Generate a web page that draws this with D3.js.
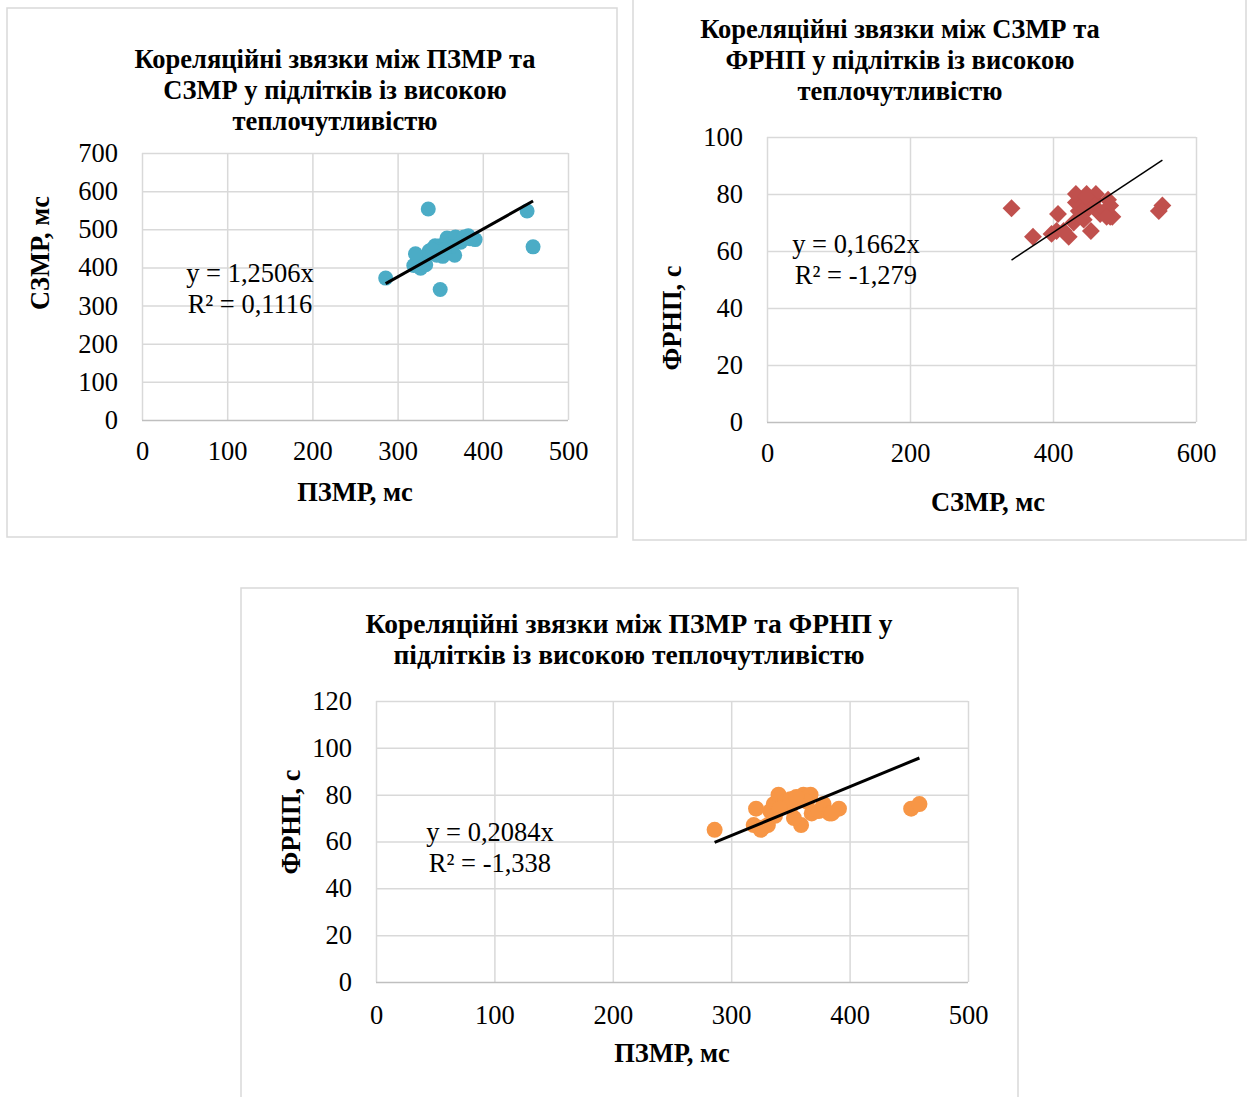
<!DOCTYPE html>
<html>
<head>
<meta charset="utf-8">
<script src="https://cdn.jsdelivr.net/npm/d3@7"></script>
<style>
body { margin: 0; background: #fff; }
text { font-family: "Liberation Serif", "Times New Roman", serif; fill: #000; }
</style>
</head>
<body>
<div id="chart"></div>
<script>
// one value per subject, same order in all three arrays
var pzmr = [286, 336, 350, 452, 459, 319, 325, 331, 359, 321, 327, 333, 340, 344, 346, 350,
            353, 358, 361, 367, 368, 374, 378, 383, 391, 385, 348, 337, 364, 341, 355];
var szmr = [372, 553, 342, 548, 454, 405, 422, 415, 453, 436, 398, 407, 447, 457, 432, 457,
            429, 477, 460, 432, 480, 466, 480, 483, 473, 475, 445, 443, 455, 446, 446];
var frnp = [65, 76, 75, 74, 76, 67, 65, 67, 67, 74, 66, 73, 80, 76, 77, 78,
            70, 78, 80, 80, 72, 73, 76, 72, 74, 72, 75, 71, 77, 74, 79];

var ticksPzmr = [0, 100, 200, 300, 400, 500];
var ticksSzmrY = [0, 100, 200, 300, 400, 500, 600, 700];
var ticksSzmrX = [0, 200, 400, 600];
var ticksFrnp2 = [0, 20, 40, 60, 80, 100];
var ticksFrnp3 = [0, 20, 40, 60, 80, 100, 120];

var slopes = [1.2506, 0.1662, 0.2084];
var equations = [["y = 1,2506x", "R² = 0,1116"],
                 ["y = 0,1662x", "R² = -1,279"],
                 ["y = 0,2084x", "R² = -1,338"]];
var titles = [["Кореляційні звязки між ПЗМР та", "СЗМР у підлітків із високою", "теплочутливістю"],
              ["Кореляційні звязки між СЗМР та", "ФРНП у підлітків із високою", "теплочутливістю"],
              ["Кореляційні звязки між ПЗМР та ФРНП у", "підлітків із високою теплочутливістю"]];
var xTitles = ["ПЗМР, мс", "СЗМР, мс", "ПЗМР, мс"];
var yTitles = ["СЗМР, мс", "ФРНП, с", "ФРНП, с"];

var FONT = "'Liberation Serif', 'Times New Roman', serif";

var svg = d3.select("#chart").append("svg")
    .attr("width", 1248)
    .attr("height", 1097);

function drawChart(o) {
    var g = svg.append("g");

    g.append("rect")
        .attr("x", o.box[0]).attr("y", o.box[1])
        .attr("width", o.box[2] - o.box[0]).attr("height", o.box[3] - o.box[1])
        .attr("fill", "#fff").attr("stroke", "#d9d9d9").attr("stroke-width", 1.5);

    var x = d3.scaleLinear().domain([0, d3.max(o.xTicks)]).range([o.plot[0], o.plot[2]]);
    var y = d3.scaleLinear().domain([0, d3.max(o.yTicks)]).range([o.plot[3], o.plot[1]]);
    var w = o.plot[2] - o.plot[0], h = o.plot[3] - o.plot[1];

    var gx = g.append("g")
        .attr("transform", "translate(0," + o.plot[3] + ")")
        .call(d3.axisBottom(x).tickValues(o.xTicks).tickSize(-h).tickPadding(o.xPad));
    var gy = g.append("g")
        .attr("transform", "translate(" + o.plot[0] + ",0)")
        .call(d3.axisLeft(y).tickValues(o.yTicks).tickSize(-w).tickPadding(24));

    [gx, gy].forEach(function (a) {
        a.attr("font-family", FONT).attr("font-size", 26.5);
        a.select(".domain").remove();
        a.selectAll("line").attr("stroke", "#d9d9d9").attr("stroke-width", 1.5);
        a.selectAll("text").attr("fill", "#000");
    });
    gy.selectAll(".tick").filter(function (d) { return d === 0; })
        .select("line").attr("stroke", "#bfbfbf");

    // points
    if (o.shape === "diamond") {
        g.selectAll(".pt").data(o.data).enter().append("path")
            .attr("d", d3.symbol().type(d3.symbolSquare).size(160))
            .attr("transform", function (d) { return "translate(" + x(d[0]) + "," + y(d[1]) + ") rotate(45)"; })
            .attr("fill", o.color);
    } else {
        g.selectAll(".pt").data(o.data).enter().append("circle")
            .attr("cx", function (d) { return x(d[0]); })
            .attr("cy", function (d) { return y(d[1]); })
            .attr("r", o.r)
            .attr("fill", o.color);
    }

    // linear trend through origin
    var ext = d3.extent(o.data, function (d) { return d[0]; });
    g.append("line")
        .attr("x1", x(ext[0])).attr("y1", y(ext[0] * o.slope))
        .attr("x2", x(ext[1])).attr("y2", y(ext[1] * o.slope))
        .attr("stroke", "#000").attr("stroke-width", o.lineW);

    g.selectAll(".eq").data(o.eq).enter().append("text")
        .attr("x", o.eqPos[0]).attr("y", function (d, i) { return o.eqPos[1] + i * 31; })
        .attr("text-anchor", "middle")
        .style("font-size", "26.5px")
        .text(function (d) { return d; });

    g.selectAll(".title").data(o.title).enter().append("text")
        .attr("x", o.titlePos[0]).attr("y", function (d, i) { return o.titlePos[1] + i * 31; })
        .attr("text-anchor", "middle")
        .style("font-size", o.titleSize + "px").style("font-weight", "bold")
        .text(function (d) { return d; });

    g.append("text")
        .attr("x", o.xTitlePos[0]).attr("y", o.xTitlePos[1])
        .attr("text-anchor", "middle")
        .style("font-size", "26.5px").style("font-weight", "bold")
        .text(o.xTitle);

    g.append("text")
        .attr("transform", "translate(" + o.yTitlePos[0] + "," + o.yTitlePos[1] + ") rotate(-90)")
        .attr("text-anchor", "middle")
        .style("font-size", "26.5px").style("font-weight", "bold")
        .text(o.yTitle);
}

drawChart({
    box: [7, 8, 617, 537], plot: [142, 153, 568, 420],
    xTicks: ticksPzmr, yTicks: ticksSzmrY, xPad: 21,
    data: pzmr.map(function (v, i) { return [v, szmr[i]]; }),
    shape: "circle", r: 7.5, color: "#4bacc6", slope: slopes[0], lineW: 3,
    eq: equations[0], eqPos: [250, 282],
    title: titles[0], titleSize: 26.5, titlePos: [335, 68],
    xTitle: xTitles[0], xTitlePos: [355, 501],
    yTitle: yTitles[0], yTitlePos: [49, 253]
});

drawChart({
    box: [633, -2, 1246, 540], plot: [767, 137, 1196, 422],
    xTicks: ticksSzmrX, yTicks: ticksFrnp2, xPad: 21,
    data: szmr.map(function (v, i) { return [v, frnp[i]]; }),
    shape: "diamond", color: "#c0504d", slope: slopes[1], lineW: 1.5,
    eq: equations[1], eqPos: [856, 253],
    title: titles[1], titleSize: 26.5, titlePos: [900, 38],
    xTitle: xTitles[1], xTitlePos: [988, 511],
    yTitle: yTitles[1], yTitlePos: [681, 318]
});

drawChart({
    box: [241, 588, 1018, 1110], plot: [376, 701, 968, 982],
    xTicks: ticksPzmr, yTicks: ticksFrnp3, xPad: 23,
    data: pzmr.map(function (v, i) { return [v, frnp[i]]; }),
    shape: "circle", r: 8, color: "#f79646", slope: slopes[2], lineW: 3,
    eq: equations[2], eqPos: [490, 841],
    title: titles[2], titleSize: 27.5, titlePos: [629, 633],
    xTitle: xTitles[2], xTitlePos: [672, 1062],
    yTitle: yTitles[2], yTitlePos: [300, 822]
});
</script>
</body>
</html>
